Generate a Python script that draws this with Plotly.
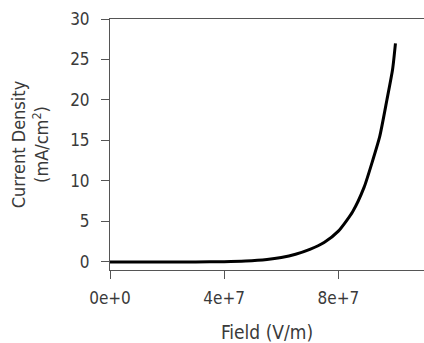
import plotly.graph_objects as go

field = [0, 1e7, 2e7, 3e7, 4e7, 4.75e7, 5.5e7, 6.0e7, 6.5e7, 7.0e7, 7.5e7, 8.0e7,
         8.5e7, 8.9e7, 9.2e7, 9.45e7, 9.7e7, 9.9e7, 1.0e8]
current = [0, 0, 0, 0, 0.02, 0.1, 0.3, 0.55, 0.95, 1.55, 2.4, 3.8,
           6.2, 9.2, 12.5, 15.5, 20.0, 23.8, 27.0]

x_tickvals = [0, 4e7, 8e7]
x_ticktext = ["0e+0", "4e+7", "8e+7"]
y_tickvals = [0, 5, 10, 15, 20, 25, 30]

font_family = "'DejaVu Sans Condensed', 'DejaVu Sans', sans-serif"
text_color = "#3a3a3a"
axis_color = "#555555"

fig = go.Figure()
fig.add_trace(go.Scatter(x=field, y=current, mode="lines",
                         line=dict(color="black", width=3, shape="spline", smoothing=0.6),
                         showlegend=False, hoverinfo="skip"))

fig.update_layout(
    width=424, height=343,
    margin=dict(l=110, r=0, t=19, b=73),
    paper_bgcolor="white", plot_bgcolor="white",
    font=dict(family=font_family, color=text_color, size=17),
    xaxis=dict(range=[0, 1.1e8], tickvals=x_tickvals, ticktext=x_ticktext,
               showgrid=False, zeroline=False, showline=True, linecolor=axis_color,
               linewidth=1, mirror=True, ticks="outside", ticklen=8, tickcolor=axis_color,
               ticklabelstandoff=5,
               tickfont=dict(size=17, color=text_color),
               title=dict(text="Field (V/m)", font=dict(size=19, color=text_color), standoff=18)),
    yaxis=dict(range=[-1, 30], tickvals=y_tickvals,
               showgrid=False, zeroline=False, showline=True, linecolor=axis_color,
               linewidth=1, ticks="outside", ticklen=8, tickcolor=axis_color,
               ticklabelstandoff=8,
               tickfont=dict(size=17, color=text_color),
               title=dict(text="Current Density<br>(mA/cm<sup>2</sup>)",
                          font=dict(size=18, color=text_color), standoff=16)),
)

fig.write_html("out.html", config={"displayModeBar": False},
               post_script="document.body.style.margin='0';document.body.style.overflow='hidden';")
